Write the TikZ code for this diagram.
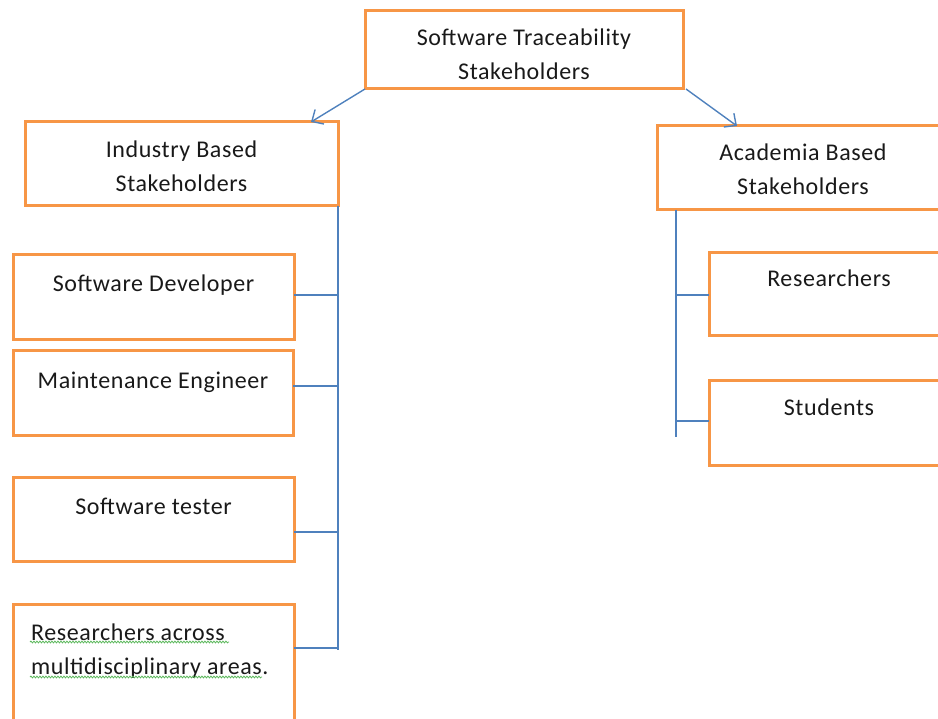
\documentclass[tikz,border=0pt]{standalone}
\usepackage{fontspec}
\setmainfont{Carlito}[LetterSpace=2.5]
\usetikzlibrary{
  positioning,
  arrows.meta,
  decorations.pathmorphing
}
\definecolor{boxorange}{HTML}{F79646}
\definecolor{linkblue}{HTML}{4F81BD}
\definecolor{spellgreen}{HTML}{5CB85C}
\tikzset{
  x=1pt, y=-1pt,
  stake/.style={draw=boxorange, line width=3pt, inner sep=0pt, outer sep=0pt, anchor=north west},
  lbl/.style={inner sep=0pt, align=center, text=black!90, font=\fontsize{24}{33.5}\selectfont},
  link/.style={draw=linkblue, line width=1.4pt},
  arr/.style={link, -{Straight Barb[length=9pt, width=17pt]}},
  squiggle/.style={draw=spellgreen, line width=0.8pt, decorate,
    decoration={snake, amplitude=0.9pt, segment length=3pt}}
}

\begin{document}
\begin{tikzpicture}
    \useasboundingbox (0,0) rectangle (938,719);
    \clip (0,0) rectangle (938,719);

    \node[stake, minimum width=318pt, minimum height=78pt] (top) at (365,11) {};
    \node[lbl, below=18pt of top.north] (toptxt) {Software Traceability\\Stakeholders};

    \node[stake, minimum width=313pt, minimum height=84pt] (ind) at (25,122) {};
    \node[lbl, below=19pt of ind.north] (indtxt) {Industry Based\\Stakeholders};
    \node[stake, minimum width=292pt, minimum height=84pt] (acad) at (657,126) {};
    \node[lbl, below=18pt of acad.north] (acadtxt) {Academia Based\\Stakeholders};

    \node[stake, minimum width=281pt, minimum height=85pt] (dev) at (13,255) {};
    \node[lbl, below=20pt of dev.north] (devtxt) {Software Developer};
    \node[stake, minimum width=280pt, minimum height=85pt] (maint) at (13,351) {};
    \node[lbl, below=21pt of maint.north] (mainttxt) {Maintenance Engineer};
    \node[stake, minimum width=281pt, minimum height=83pt] (tester) at (13,478) {};
    \node[lbl, below=20pt of tester.north] (testertxt) {Software tester};
    \node[stake, minimum width=281pt, minimum height=126pt] (resx) at (13,604) {};
    \node[lbl, align=left, below right=20pt and 18pt of resx.north west] (resxtxt) {Researchers across\\multidisciplinary areas.};
    \draw[squiggle] (30,642) -- (229,642);
    \draw[squiggle] (30,677) -- (262,677);

    \node[stake, minimum width=240pt, minimum height=83pt] (resr) at (709,253) {};
    \node[lbl, below=17pt of resr.north] (resrtxt) {Researchers};
    \node[stake, minimum width=240pt, minimum height=85pt] (stud) at (709,381) {};
    \node[lbl, below=18pt of stud.north] (studtxt) {Students};

    \draw[arr] (top.south west) -- ([xshift=-27pt]ind.north east);
    \draw[arr] ([xshift=3pt]top.south east) -- ([xshift=80pt]acad.north west);

    \coordinate (lend) at (338,650);
    \coordinate (l1) at (338,295);
    \coordinate (l2) at (338,386);
    \coordinate (l3) at (338,532);
    \coordinate (l4) at (338,648);
    \draw[link] (ind.south east) -- (lend);
    \draw[link] (l1) -- (dev.east |- l1);
    \draw[link] (l2) -- (maint.east |- l2);
    \draw[link] (l3) -- (tester.east |- l3);
    \draw[link] (l4) -- (resx.east |- l4);

    \coordinate (rend) at (676,437);
    \coordinate (r1) at (676,295);
    \coordinate (r2) at (676,421);
    \draw[link] ([xshift=19pt]acad.south west) -- (rend);
    \draw[link] (r1) -- (resr.west |- r1);
    \draw[link] (r2) -- (stud.west |- r2);
\end{tikzpicture}
\end{document}
